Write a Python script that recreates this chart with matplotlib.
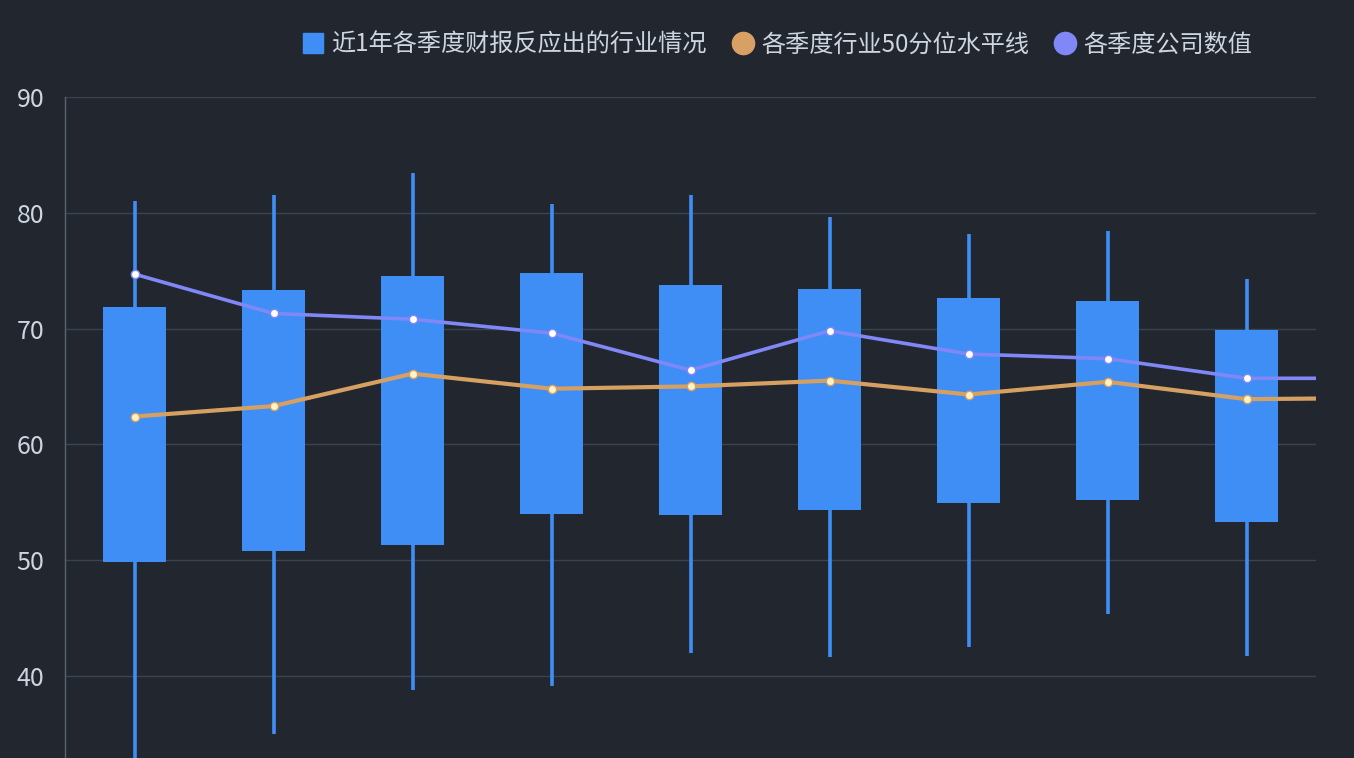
import matplotlib
matplotlib.use("Agg")
import matplotlib.pyplot as plt
from matplotlib.lines import Line2D
import numpy as np

plt.rcParams['font.family'] = ['Noto Sans CJK SC', 'DejaVu Sans']

# Data
quarters = ["Q1", "Q2", "Q3", "Q4", "Q5", "Q6", "Q7", "Q8", "Q9"]
whisker_low = [31.0, 35.0, 38.8, 39.1, 42.0, 41.6, 42.5, 45.3, 41.7]
box_low = [49.8, 50.8, 51.3, 54.0, 53.9, 54.3, 54.9, 55.2, 53.3]
box_high = [71.9, 73.3, 74.5, 74.8, 73.8, 73.4, 72.6, 72.4, 69.9]
whisker_high = [81.0, 81.5, 83.4, 80.8, 81.5, 79.6, 78.2, 78.4, 74.3]
industry_median = [62.4, 63.3, 66.1, 64.8, 65.0, 65.5, 64.3, 65.4, 63.9, 64.0]
company_value = [74.7, 71.3, 70.8, 69.6, 66.4, 69.8, 67.8, 67.4, 65.7, 65.7]
legend_labels = ["近1年各季度财报反应出的行业情况", "各季度行业50分位水平线", "各季度公司数值"]

BG = "#22272f"
BOX = "#3f8ef5"
IND = "#d6a062"
COMP = "#7f88f6"
TXT = "#cdd5e0"
GRID = "#3a4350"

fig = plt.figure(figsize=(13.54, 7.58), dpi=100, facecolor=BG)
ax = fig.add_axes([65/1354, 0.0, (1316-65)/1354, 1 - 97/758])
ax.set_facecolor(BG)

x = np.arange(len(quarters))
ax.vlines(x, whisker_low, whisker_high, color=BOX, lw=2.6, zorder=2)
ax.bar(x, np.array(box_high) - np.array(box_low), bottom=box_low, width=0.45,
       color=BOX, zorder=3, linewidth=0)

xl = np.arange(len(industry_median))
ax.plot(xl, industry_median, color=IND, lw=3, zorder=4, solid_capstyle='round')
ax.plot(x, industry_median[:len(x)], 'o', ms=6, mfc="#fff3c8", mec=IND, mew=1, zorder=5)
ax.plot(xl, company_value, color=COMP, lw=2.6, zorder=4, solid_capstyle='round')
ax.plot(x, company_value[:len(x)], 'o', ms=6, mfc="white", mec=COMP, mew=1, zorder=5)

ax.set_xlim(-0.5, 8.5)
ax.set_ylim(32.9, 90)
ax.set_yticks([40, 50, 60, 70, 80, 90])
ax.yaxis.grid(True, color=GRID, lw=1)
ax.set_axisbelow(True)
ax.set_xticks([])
for s in ["top", "right", "bottom"]:
    ax.spines[s].set_visible(False)
ax.spines["left"].set_color("#5a6370")
ax.spines["left"].set_linewidth(1)
ax.tick_params(axis='y', length=0, pad=15, labelsize=18, labelcolor=TXT)

handles = [
    Line2D([], [], marker='s', ls='none', ms=15, mfc=BOX, mec=BOX),
    Line2D([], [], marker='o', ls='none', ms=16, mfc="#d9a066", mec="#d9a066"),
    Line2D([], [], marker='o', ls='none', ms=16, mfc=COMP, mec=COMP),
]
fig.legend(handles, legend_labels, loc='center', bbox_to_anchor=(0.5735, 0.941),
           ncol=3, frameon=False, fontsize=17.4, labelcolor=TXT,
           handletextpad=0.25, columnspacing=1.0, handlelength=1.0)

fig.savefig("out.png", dpi=100, facecolor=BG)
